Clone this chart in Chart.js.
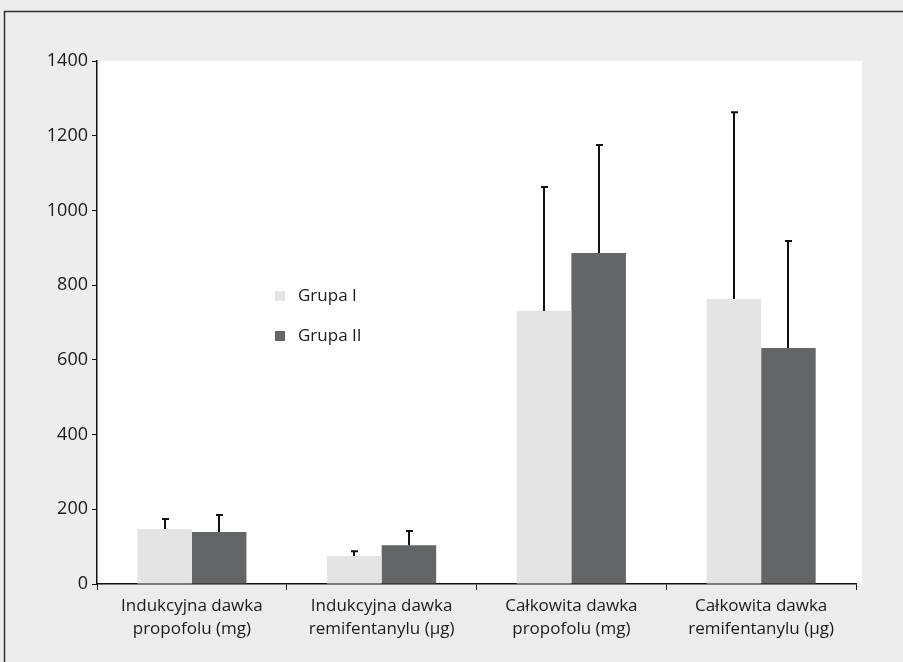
<!DOCTYPE html>
<html>
<head>
<meta charset="utf-8">
<script src="https://cdn.jsdelivr.net/npm/chart.js@4/dist/chart.umd.min.js"></script>
<style>
  html, body { margin: 0; padding: 0; background: #ebeceb; }
  #wrap { width: 903px; height: 662px; position: relative; }
</style>
</head>
<body>
<div id="wrap"><canvas id="c" width="903" height="662"></canvas></div>
<script>
// Dose categories (x axis)
const categories = [
  ["Indukcyjna dawka", "propofolu (mg)"],
  ["Indukcyjna dawka", "remifentanylu (μg)"],
  ["Całkowita dawka", "propofolu (mg)"],
  ["Całkowita dawka", "remifentanylu (μg)"]
];
const seriesNames = ["Grupa I", "Grupa II"];
// Means
const grupa1 = [147, 75, 731, 763];
const grupa2 = [139, 104, 886, 632];
// Standard deviations (drawn upward only)
const grupa1Sd = [27, 13, 332, 500];
const grupa2Sd = [46, 38, 289, 286];
const yTicks = [0, 200, 400, 600, 800, 1000, 1200, 1400];

const colors = ["#e3e4e3", "#646566"];
const FONT = "'Open Sans', 'Noto Sans', sans-serif";

const backdrop = {
  id: 'backdrop',
  beforeDraw(chart) {
    const ctx = chart.ctx, a = chart.chartArea;
    ctx.save();
    ctx.fillStyle = '#ebeceb';
    ctx.fillRect(0, 0, chart.width, chart.height);
    ctx.strokeStyle = '#2e2e2e';
    ctx.lineWidth = 1.5;
    ctx.strokeRect(4.5, 11.5, chart.width + 20, chart.height + 20);
    ctx.fillStyle = '#ffffff';
    ctx.fillRect(a.left, a.top, a.right - a.left + 6, a.bottom - a.top);
    ctx.restore();
  }
};

const errorBars = {
  id: 'errorBars',
  afterDatasetsDraw(chart) {
    const ctx = chart.ctx, y = chart.scales.y;
    const sds = [grupa1Sd, grupa2Sd];
    ctx.save();
    ctx.strokeStyle = '#111';
    ctx.lineWidth = 2;
    chart.data.datasets.forEach((ds, di) => {
      const meta = chart.getDatasetMeta(di);
      meta.data.forEach((bar, i) => {
        const top = y.getPixelForValue(ds.data[i] + sds[di][i]);
        const x = Math.round(bar.x);
        ctx.beginPath();
        ctx.moveTo(x, bar.y);
        ctx.lineTo(x, top);
        ctx.moveTo(x - 3, top);
        ctx.lineTo(x + 4, top);
        ctx.stroke();
      });
    });
    ctx.restore();
  }
};

const legendBox = {
  id: 'legendBox',
  afterDraw(chart) {
    const ctx = chart.ctx;
    ctx.save();
    ctx.font = "17px " + FONT;
    ctx.textBaseline = 'middle';
    seriesNames.forEach((name, i) => {
      const yy = 296 + i * 40;
      ctx.fillStyle = colors[i];
      ctx.fillRect(275, yy - 5, 10, 10);
      ctx.fillStyle = '#1a1a1a';
      ctx.fillText(name, 298, yy);
    });
    ctx.restore();
  }
};

new Chart(document.getElementById('c'), {
  type: 'bar',
  data: {
    labels: categories,
    datasets: [
      { label: seriesNames[0], data: grupa1, backgroundColor: colors[0] },
      { label: seriesNames[1], data: grupa2, backgroundColor: colors[1] }
    ]
  },
  options: {
    responsive: false,
    animation: false,
    devicePixelRatio: 1,
    layout: { padding: { left: 0, right: 47, top: 61, bottom: 0 } },
    datasets: { bar: { categoryPercentage: 0.575, barPercentage: 1.0 } },
    plugins: { legend: { display: false }, tooltip: { enabled: false } },
    scales: {
      x: {
        grid: { display: true, drawOnChartArea: false, drawTicks: true, tickLength: 6, color: '#111', offset: true },
        border: { display: true, color: '#111', width: 1.5 },
        ticks: { color: '#1a1a1a', font: { family: FONT, size: 17, lineHeight: 1.35 }, padding: 5, maxRotation: 0 },
        afterFit(s) { s.height = 78; }
      },
      y: {
        min: 0, max: 1400,
        afterBuildTicks(s) { s.ticks = yTicks.map(v => ({ value: v })); },
        grid: { display: true, drawOnChartArea: false, drawTicks: true, tickLength: 5, color: '#111' },
        border: { display: true, color: '#111', width: 1.5 },
        ticks: { color: '#1a1a1a', font: { family: FONT, size: 18 }, padding: 4, callback: v => String(v) },
        afterFit(s) { s.width = 97; }
      }
    }
  },
  plugins: [backdrop, errorBars, legendBox]
});
</script>
</body>
</html>
